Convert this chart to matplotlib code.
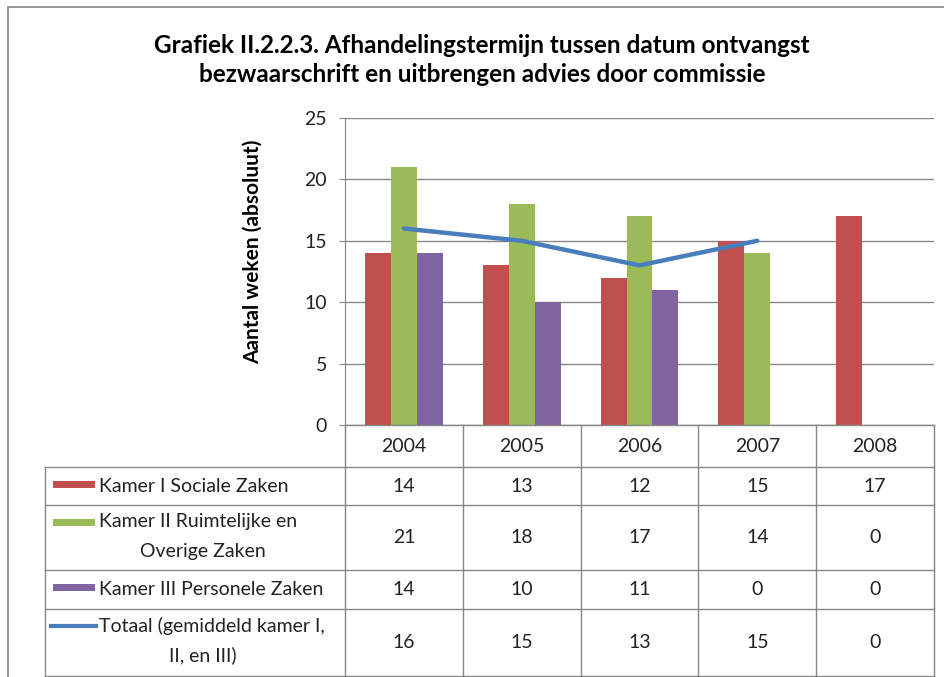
import matplotlib.pyplot as plt
import numpy as np
from matplotlib.lines import Line2D
from matplotlib.patches import Rectangle

# Data
years = ['2004', '2005', '2006', '2007', '2008']
kamer1 = [14, 13, 12, 15, 17]
kamer2 = [21, 18, 17, 14, 0]
kamer3 = [14, 10, 11, 0, 0]
totaal = [16, 15, 13, 15, 0]
series_names = ['Kamer I Sociale Zaken', 'Kamer II Ruimtelijke en\nOverige Zaken',
                'Kamer III Personele Zaken', 'Totaal (gemiddeld kamer I,\nII, en III)']
colors = ['#C0504D', '#9BBB59', '#8064A2', '#4A7EBB']
title = 'Grafiek II.2.2.3. Afhandelingstermijn tussen datum ontvangst\nbezwaarschrift en uitbrengen advies door commissie'

W, H = 945, 677
plt.rcParams['font.family'] = ['Lato', 'DejaVu Sans']
fig = plt.figure(figsize=(W / 100, H / 100), dpi=100)
grid = '#868686'
txt = '#222222'
fs = 14


def fx(px):
    return px / W


def fy(py):
    return 1 - py / H


# outer chart frame
fig.add_artist(Rectangle((fx(8), fy(H + 5)), fx(W), fy(7) - fy(H + 5), transform=fig.transFigure,
                         fill=False, edgecolor=grid, lw=1.2))

fig.text(fx(482), fy(60), title, ha='center', va='center', fontsize=17.5, fontweight='bold',
         linespacing=1.35)

ax_l, ax_r, ax_t, ax_b = 345, 934, 118, 425
ax = fig.add_axes([fx(ax_l), fy(ax_b), fx(ax_r - ax_l), fy(ax_t) - fy(ax_b)])

x = np.arange(len(years))
bw = 0.22
for i, vals in enumerate([kamer1, kamer2, kamer3]):
    ax.bar(x + (i - 1) * bw, vals, bw, color=colors[i], zorder=3)

tot = np.array(totaal, dtype=float)
tot[tot == 0] = np.nan
ax.plot(x, tot, color=colors[3], lw=3.2, zorder=4, solid_capstyle='round')

ax.set_xlim(-0.5, len(years) - 0.5)
ax.set_ylim(0, 25)
ax.set_yticks(range(0, 26, 5))
ax.yaxis.grid(True, color=grid, lw=1)
ax.set_axisbelow(True)
ax.set_xticks([])
for s in ['top', 'right', 'bottom']:
    ax.spines[s].set_visible(False)
ax.spines['left'].set_color(grid)
ax.tick_params(axis='y', length=4, color=grid, labelsize=fs, labelcolor=txt, pad=9)

fig.text(fx(253), fy(252), 'Aantal weken (absoluut)', rotation=90, ha='center', va='center',
         fontsize=15, fontweight='bold')

# data table
col_edges = [ax_l + (ax_r - ax_l) * k / len(years) for k in range(len(years) + 1)]
row_edges = [425, 467, 505, 570, 609, 676]
tab_left = 45

def hline(y, x0, x1):
    fig.add_artist(Line2D([fx(x0), fx(x1)], [fy(y), fy(y)], color=grid, lw=1))

def vline(xp, y0, y1):
    fig.add_artist(Line2D([fx(xp), fx(xp)], [fy(y0), fy(y1)], color=grid, lw=1))

hline(425, ax_l, ax_r)
for yy in row_edges[1:]:
    hline(yy, tab_left, ax_r)
for xx in col_edges:
    vline(xx, 425, 676)
vline(tab_left, 467, 676)

for j, yr in enumerate(years):
    cx = (col_edges[j] + col_edges[j + 1]) / 2
    fig.text(fx(cx), fy(447), yr, ha='center', va='center', fontsize=fs, color=txt)

table_rows = [kamer1, kamer2, kamer3, totaal]
for i, vals in enumerate(table_rows):
    y0, y1 = row_edges[i + 1], row_edges[i + 2]
    cy = (y0 + y1) / 2
    for j, v in enumerate(vals):
        cx = (col_edges[j] + col_edges[j + 1]) / 2
        fig.text(fx(cx), fy(cy), str(v), ha='center', va='center', fontsize=fs, color=txt)
    # legend key
    if i < 3:
        ky = y0 + 17
        fig.add_artist(Rectangle((fx(53), fy(ky + 3.5)), fx(42), fy(ky - 3.5) - fy(ky + 3.5),
                                 transform=fig.transFigure, color=colors[i], lw=0))
    else:
        ky = y0 + 17
        fig.add_artist(Line2D([fx(51), fx(96)], [fy(ky), fy(ky)], color=colors[3], lw=3))
    lines = series_names[i].split('\n')
    if len(lines) == 1:
        fig.text(fx(99), fy(cy), lines[0], ha='left', va='center', fontsize=fs, color=txt)
    else:
        fig.text(fx(99), fy(y0 + 17), lines[0], ha='left', va='center', fontsize=fs, color=txt)
        fig.text(fx(203), fy(y0 + 46), lines[1], ha='center', va='center', fontsize=fs, color=txt)

fig.savefig('out.png', dpi=100)
